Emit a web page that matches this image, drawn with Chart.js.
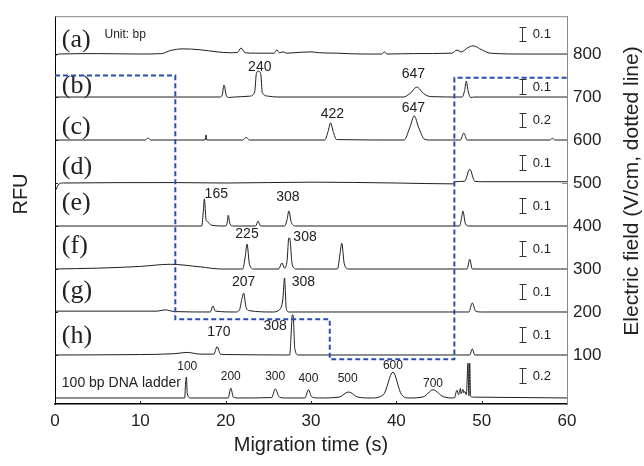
<!DOCTYPE html>
<html>
<head>
<meta charset="utf-8">
<script src="https://cdn.jsdelivr.net/npm/chart.js@4"></script>
<style>
  body { margin: 0; background: #fff; }
  #wrap { width: 644px; height: 466px; }
</style>
</head>
<body>
<div id="wrap"><canvas id="graph" width="644" height="466"></canvas></div>
<script>
// each trace: [time (s), signal above its own baseline]
const traceA = [[0,-5],[0.4,0],[5,1],[10,0],[12.5,1],[13.5,8],[15,12],[17,10],[19,5],[20.5,3],[21.4,4],[21.8,14],[22.3,3],[23.5,2],[25.7,2],[26,10],[26.3,3],[26.8,5],[27.1,2],[28,3],[30,5],[31,3],[33,2],[36,0],[38.3,0],[38.6,5],[38.9,0],[42,1],[46.5,2],[47.1,9],[47.6,5],[48.4,15],[49,19],[50,10],[51,2],[55,0],[60,0]];
const traceB = [[0,0],[19.3,0],[19.6,5],[19.8,28],[20.1,2],[20.4,-1],[21,0],[22.8,2],[23.4,12],[23.6,55],[23.8,60],[24.1,55],[24.3,10],[25,2],[26,0],[40.8,0],[41.6,8],[42.4,23],[43.2,8],[44,1],[47.7,0],[48,15],[48.2,37],[48.4,15],[48.7,-1],[49.2,0],[60,0]];
const traceC = [[0,0],[10.6,0],[10.9,5],[11.2,0],[17.6,0],[17.7,12],[17.8,0],[22,0],[22.4,6],[22.8,0],[31.6,0],[32,20],[32.3,40],[32.6,20],[33,1],[40.9,0],[41.6,30],[42.1,56],[42.6,30],[43.3,2],[44,0],[47.5,0],[47.9,16],[48.3,0],[58,0],[58.3,4],[58.6,0],[60,0]];
const traceD = [[0,-20],[0.5,-2],[1,0],[14,1],[20,0],[30,2],[40,0],[46.7,-2],[46.8,3],[48,4],[48.6,32],[49.2,4],[50,3],[60,3]];
const traceE = [[0,0],[14,0],[17.2,0],[17.4,40],[17.5,63],[17.7,15],[17.9,10],[18.3,2],[20,0],[20.2,10],[20.3,25],[20.5,5],[20.8,0],[23.5,0],[23.8,11],[24.1,0],[26.9,0],[27.2,15],[27.4,35],[27.7,8],[28.2,0],[47.4,0],[47.7,25],[47.8,35],[48.1,5],[48.5,0],[60,0]];
const traceF = [[0,0],[5,2],[10,6],[13.5,11],[17,5],[19.5,0],[22,0],[22.3,30],[22.5,58],[22.8,10],[23.3,0],[26.2,0],[26.6,14],[26.9,2],[27.2,20],[27.4,72],[27.5,72],[27.8,10],[28.3,0],[33.1,0],[33.4,35],[33.6,60],[33.9,12],[34.4,0],[48.3,0],[48.6,23],[48.9,0],[60,0]];
const traceG = [[0,2],[12,2],[12.9,5],[14,1],[18.2,0],[18.5,14],[18.8,2],[21.2,0],[21.6,4],[21.9,30],[22.1,44],[22.4,10],[22.8,3],[25.5,0],[26.3,5],[26.7,30],[26.9,79],[27.1,8],[27.4,0],[48.5,0],[48.9,21],[49.3,2],[50,0],[60,0]];
const traceH = [[0,0],[10,1],[14,3],[15.5,6],[17,2],[18.6,2],[19,19],[19.4,2],[20,1],[27.5,0],[27.7,60],[27.8,93],[27.9,93],[28.1,15],[28.5,0],[48.6,0],[48.9,14],[49.2,0],[60,0]];
const ladder = [[0,0],[15.2,0],[15.3,35],[15.4,49],[15.5,10],[15.9,0],[20.3,0],[20.6,23],[20.9,2],[21.5,0],[25.4,1],[25.8,21],[26.3,2],[27,0],[29.3,0],[29.7,19],[30.1,2],[31,0],[33.3,2],[34.4,14],[35.5,2],[37,0],[38.5,8],[39.6,60],[40.6,8],[41.5,0],[43.2,3],[44.3,19],[45.5,3],[46.8,0],[47.1,18],[47.3,8],[47.5,22],[47.6,10],[47.8,20],[47.9,12],[48.0,15],[48.2,8],[48.4,81],[48.5,5],[48.6,81],[48.7,4],[49,2],[60,0]];

const traces = [traceA, traceB, traceC, traceD, traceE, traceF, traceG, traceH, ladder];
const baselines = [800, 700, 600, 500, 400, 300, 200, 100, 0];
const traceNames = ['(a)', '(b)', '(c)', '(d)', '(e)', '(f)', '(g)', '(h)'];
const scaleText = ['0.1', '0.1', '0.2', '0.1', '0.1', '0.1', '0.1', '0.1', '0.2'];

// electric field (V/cm), held until the next time
const fieldTime = [0, 14.1, 32.2, 46.8, 60];
const fieldValue = [750, 183, 90, 745, 745];

const fieldTicks = [100, 200, 300, 400, 500, 600, 700, 800];

// peak sizes in bp: [text, time, level]
const peakLabels = [
  ['240', 24.0, 770], ['647', 42.0, 754],
  ['422', 32.5, 661], ['647', 42.0, 675],
  ['165', 18.9, 475], ['308', 27.3, 468],
  ['225', 22.5, 382], ['308', 29.3, 373],
  ['207', 22.1, 269], ['308', 29.1, 269],
  ['170', 19.2, 153], ['308', 25.8, 167]
];
const ladderLabels = [
  ['100', 15.5, 72], ['200', 20.6, 49], ['300', 25.8, 49], ['400', 29.7, 46],
  ['500', 34.3, 44], ['600', 39.6, 76], ['700', 44.3, 34]
];
const nameLevel = [832, 726, 631, 538, 454, 352, 248, 143];

Chart.defaults.font.family = '"Liberation Sans", Arial, sans-serif';
Chart.defaults.color = '#222';

const sans = px => px + 'px "Liberation Sans", Arial, sans-serif';

const overlay = {
  id: 'overlay',
  beforeDatasetsDraw(chart) {
    const {ctx, scales: {x, y}} = chart;
    ctx.save();
    ctx.fillStyle = '#222';
    ctx.textBaseline = 'middle';

    ctx.textAlign = 'left';
    ctx.font = '26px "Liberation Serif", "Times New Roman", serif';
    traceNames.forEach((n, i) => ctx.fillText(n, x.getPixelForValue(0.8), y.getPixelForValue(nameLevel[i])));

    ctx.font = sans(12);
    ctx.fillText('Unit: bp', x.getPixelForValue(5.8), y.getPixelForValue(846));
    ctx.font = sans(14);
    ctx.fillText('100 bp DNA ladder', x.getPixelForValue(0.8), y.getPixelForValue(34));

    ctx.textAlign = 'center';
    ctx.font = sans(14);
    peakLabels.forEach(([t, px, v]) => ctx.fillText(t, x.getPixelForValue(px), y.getPixelForValue(v)));
    ctx.font = sans(12);
    ladderLabels.forEach(([t, px, v]) => ctx.fillText(t, x.getPixelForValue(px), y.getPixelForValue(v)));

    // scale bars
    ctx.strokeStyle = '#333';
    ctx.lineWidth = 1;
    ctx.textAlign = 'left';
    ctx.font = sans(13);
    const bx = Math.round(x.getPixelForValue(54.7)) + 0.5;
    baselines.forEach((b, i) => {
      let lo = 30, hi = 64;
      if (i === 1) { lo = 8; hi = 42; }
      if (i === 8) { lo = 35; hi = 69; }
      const y0 = Math.round(y.getPixelForValue(b + lo)) + 0.5;
      const y1 = Math.round(y.getPixelForValue(b + hi)) + 0.5;
      ctx.beginPath();
      ctx.moveTo(bx, y0); ctx.lineTo(bx, y1);
      ctx.moveTo(bx - 3, y0); ctx.lineTo(bx + 4, y0);
      ctx.moveTo(bx - 3, y1); ctx.lineTo(bx + 4, y1);
      ctx.stroke();
      ctx.fillText(scaleText[i], x.getPixelForValue(56.0), (y0 + y1) / 2);
    });
    ctx.restore();
  },
  afterDraw(chart) {
    const {ctx, chartArea: a, scales: {x, y}} = chart;
    ctx.save();
    // frame top
    ctx.strokeStyle = '#888';
    ctx.lineWidth = 1;
    ctx.beginPath();
    ctx.moveTo(a.left, a.top + 0.5); ctx.lineTo(a.right, a.top + 0.5);
    ctx.stroke();
    // inward ticks
    ctx.beginPath();
    fieldTicks.forEach(v => {
      const py = Math.round(y.getPixelForValue(v)) + 0.5;
      ctx.moveTo(a.right - 5, py); ctx.lineTo(a.right, py);
    });
    ctx.stroke();
    ctx.strokeStyle = '#222';
    ctx.beginPath();
    fieldTicks.forEach(v => {
      const py = Math.round(y.getPixelForValue(v)) + 0.5;
      ctx.moveTo(a.left, py); ctx.lineTo(a.left + 3, py);
    });
    [10, 20, 30, 40, 50].forEach(t => {
      const px = Math.round(x.getPixelForValue(t)) + 0.5;
      ctx.moveTo(px, a.bottom); ctx.lineTo(px, a.bottom - 3);
    });
    ctx.stroke();

    // axis titles
    ctx.fillStyle = '#222';
    ctx.textAlign = 'center';
    ctx.textBaseline = 'middle';
    ctx.font = sans(20);
    ctx.fillText('Migration time (s)', (a.left + a.right) / 2, 445);
    ctx.save();
    ctx.translate(21, 194);
    ctx.rotate(-Math.PI / 2);
    ctx.fillText('RFU', 0, 0);
    ctx.restore();
    ctx.save();
    ctx.translate(632, 191);
    ctx.rotate(-Math.PI / 2);
    ctx.font = sans(21);
    ctx.fillText('Electric field (V/cm, dotted line)', 0, 0);
    ctx.restore();
    ctx.restore();
  }
};

const datasets = traces.map((tr, i) => ({
  data: tr.map(([t, v]) => ({x: t, y: baselines[i] + v})),
  borderColor: '#1e1e1e',
  borderWidth: 1,
  pointRadius: 0,
  cubicInterpolationMode: 'monotone',
  yAxisID: 'y',
  order: 1
}));
datasets.push({
  data: fieldTime.map((t, i) => ({x: t, y: fieldValue[i]})),
  stepped: 'before',
  borderColor: '#2a4db3',
  borderWidth: 2,
  borderDash: [5, 3],
  pointRadius: 0,
  yAxisID: 'y2',
  order: 0
});

new Chart(document.getElementById('graph'), {
  type: 'line',
  data: {datasets},
  plugins: [overlay],
  options: {
    responsive: false,
    devicePixelRatio: 1,
    animation: false,
    layout: {padding: {top: 15, left: 0, right: 0, bottom: 0}},
    plugins: {legend: {display: false}, tooltip: {enabled: false}},
    scales: {
      x: {
        type: 'linear',
        min: 0, max: 60,
        grid: {display: false, drawTicks: false},
        border: {color: '#000', width: 1.5},
        ticks: {stepSize: 10, padding: 7, font: {size: 17}, color: '#222'},
        afterFit: s => { s.height = 62; }
      },
      y: {
        position: 'left',
        min: -14, max: 888,
        grid: {display: false, drawTicks: false},
        border: {color: '#000', width: 1},
        ticks: {display: false},
        afterFit: s => { s.width = 55; }
      },
      y2: {
        position: 'right',
        min: -14, max: 888,
        grid: {display: false, drawTicks: false},
        border: {color: '#888', width: 1},
        afterBuildTicks: s => { s.ticks = fieldTicks.map(v => ({value: v})); },
        ticks: {padding: 6, font: {size: 17}, color: '#222'},
        afterFit: s => { s.width = 77; }
      }
    }
  }
});
</script>
</body>
</html>
